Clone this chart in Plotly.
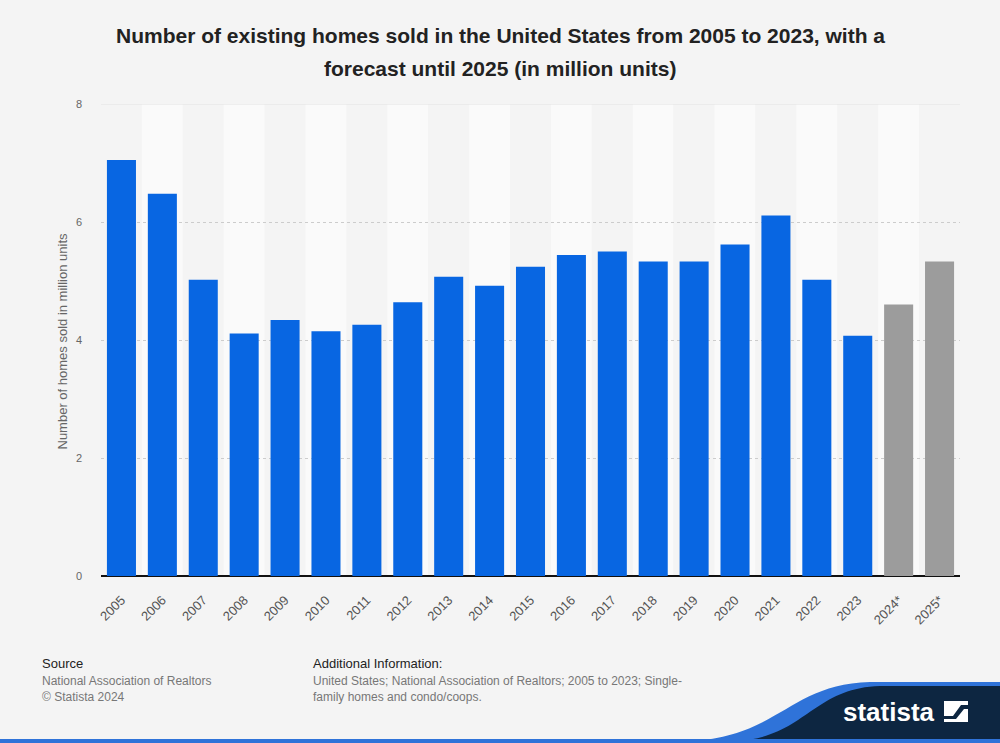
import plotly.graph_objects as go

years = ["2005", "2006", "2007", "2008", "2009", "2010", "2011", "2012", "2013", "2014",
         "2015", "2016", "2017", "2018", "2019", "2020", "2021", "2022", "2023", "2024*", "2025*"]
homes_sold = [7.05, 6.48, 5.02, 4.11, 4.34, 4.15, 4.26, 4.64, 5.07, 4.92,
              5.24, 5.44, 5.50, 5.33, 5.33, 5.62, 6.11, 5.02, 4.07, 4.60, 5.33]
forecast_years = ["2024*", "2025*"]
y_ticks = [0, 2, 4, 6, 8]

title_lines = ["Number of existing homes sold in the United States from 2005 to 2023, with a",
               "forecast until 2025 (in million units)"]
y_title = "Number of homes sold in million units"

BLUE = "#0866e2"
GREY = "#9c9c9c"
BG = "#f4f4f4"
NAVY = "#0d2641"
SWOOSH = "#2f73d9"

# plot area in pixels: x 101..960, y 104..576
L, R, T, B = 101, 40, 104, 167
W, H = 1000, 743
PW, PH = W - L - R, H - T - B


def px(x):
    return (x - L) / PW


def py(y):
    return (H - B - y) / PH


colors = [GREY if y in forecast_years else BLUE for y in years]

fig = go.Figure()
fig.add_trace(go.Bar(x=years, y=homes_sold, marker=dict(color=colors, line=dict(width=0)),
                     hoverinfo="x+y"))

shapes = []
# alternating column bands
for i in range(len(years)):
    shapes.append(dict(type="rect", xref="x", yref="paper", x0=i - 0.5, x1=i + 0.5, y0=0, y1=1,
                       fillcolor="#fafafa" if i % 2 else BG, line=dict(width=0), layer="below"))
# solid top gridline
shapes.append(dict(type="line", xref="paper", yref="y", x0=0, x1=1, y0=8, y1=8,
                   line=dict(color="#e2e2e2", width=1), layer="below"))

# statista logo swoosh and bottom strip
blue_path = (f"M {px(690)},{py(741)} C {px(780)},{py(736)} {px(790)},{py(684)} {px(870)},{py(682)} "
             f"L {px(1000)},{py(682)} L {px(1000)},{py(741)} Z")
navy_path = (f"M {px(735)},{py(741)} C {px(805)},{py(738)} {px(812)},{py(688)} {px(880)},{py(686)} "
             f"L {px(1000)},{py(686)} L {px(1000)},{py(741)} Z")
shapes.append(dict(type="path", xref="paper", yref="paper", path=blue_path,
                   fillcolor=SWOOSH, line=dict(width=0)))
shapes.append(dict(type="path", xref="paper", yref="paper", path=navy_path,
                   fillcolor=NAVY, line=dict(width=0)))
shapes.append(dict(type="rect", xref="paper", yref="paper", x0=px(0), x1=px(1000), y0=py(743), y1=py(739),
                   fillcolor=SWOOSH, line=dict(width=0)))
# logo icon
shapes.append(dict(type="rect", xref="paper", yref="paper", x0=px(944), x1=px(968), y0=py(722), y1=py(701),
                   fillcolor="white", line=dict(width=0)))
shapes.append(dict(type="path", xref="paper", yref="paper",
                   path=f"M {px(944)},{py(716)} L {px(953)},{py(716)} L {px(961)},{py(705)} L {px(968)},{py(705)} "
                        f"L {px(968)},{py(709)} L {px(964)},{py(709)} L {px(956)},{py(719)} L {px(944)},{py(719)} Z",
                   fillcolor=NAVY, line=dict(width=0)))

annotations = [
    dict(text="<b>" + title_lines[0] + "</b>", xref="paper", yref="paper", x=px(500), y=py(36),
         yanchor="middle", showarrow=False, font=dict(size=21, color="#222222")),
    dict(text="<b>" + title_lines[1] + "</b>", xref="paper", yref="paper", x=px(500), y=py(68),
         yanchor="middle", showarrow=False, font=dict(size=21, color="#222222")),
    dict(text=y_title, xref="paper", yref="paper", x=px(52), y=py(341), textangle=-90,
         showarrow=False, font=dict(size=13, color="#666666")),
    dict(text="Source", xref="paper", yref="paper", x=px(40), y=py(663), xanchor="left", yanchor="middle",
         showarrow=False, font=dict(size=13, color="#222222")),
    dict(text="National Association of Realtors<br>© Statista 2024", xref="paper", yref="paper",
         x=px(40), y=py(689), xanchor="left", yanchor="middle", align="left", showarrow=False,
         font=dict(size=12, color="#777777")),
    dict(text="Additional Information:", xref="paper", yref="paper", x=px(311), y=py(663), xanchor="left",
         yanchor="middle", showarrow=False, font=dict(size=13, color="#222222")),
    dict(text="United States; National Association of Realtors; 2005 to 2023; Single-<br>family homes and condo/coops.",
         xref="paper", yref="paper", x=px(311), y=py(689), xanchor="left", yanchor="middle", align="left",
         showarrow=False, font=dict(size=12, color="#777777")),
    dict(text="<b>statista</b>", xref="paper", yref="paper", x=px(841), y=py(712), xanchor="left",
         yanchor="middle", showarrow=False,
         font=dict(size=26, color="white", family="Liberation Sans Narrow, Arial Narrow, sans-serif")),
]

fig.update_layout(
    width=W, height=H,
    margin=dict(l=L, r=R, t=T, b=B),
    paper_bgcolor=BG, plot_bgcolor=BG,
    font=dict(family="Liberation Sans, Arial, sans-serif"),
    bargap=0.29,
    showlegend=False,
    shapes=shapes,
    annotations=annotations,
    xaxis=dict(type="category", tickangle=-45, tickfont=dict(size=13, color="#555555"),
               showgrid=False, ticks="", showline=False, ticklabelstandoff=13),
    yaxis=dict(range=[0, 8], tickvals=y_ticks, tickfont=dict(size=11, color="#666666"),
               showgrid=True, gridcolor="#cccccc", griddash="dot", gridwidth=1,
               zeroline=True, zerolinecolor="#111111", zerolinewidth=1.5, ticks="", ticklabelstandoff=18),
)

fig.write_html("out.html", config={"displayModeBar": False},
               post_script="document.body.style.margin='0';")
